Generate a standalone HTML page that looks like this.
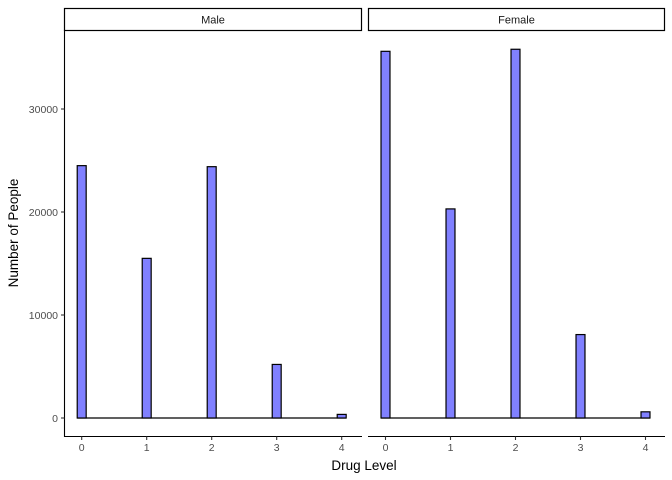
<!DOCTYPE html>
<html><head><meta charset="utf-8"><style>
body{margin:0;background:#fff}
svg{display:block;font-family:"Liberation Sans",sans-serif}
</style></head><body>
<svg id="c" width="672" height="480"></svg>
<script>
const levels=[0,1,2,3,4];
const maleCounts=[24500,15500,24400,5200,350];
const femaleCounts=[35600,20300,35800,8100,600];
const yTicks=[0,10000,20000,30000];
const xTicks=[0,1,2,3,4];
const facetNames=["Male","Female"];
const NS="http://www.w3.org/2000/svg";
const svg=document.getElementById('c');
function el(t,a,p){const e=document.createElementNS(NS,t);for(const k in a)e.setAttribute(k,a[k]);(p||svg).appendChild(e);return e;}
const y=v=>418-v*0.0103;
const panels=[{x0:64,x1:362,z:81.7,data:maleCounts},{x0:368,x1:665,z:385.5,data:femaleCounts}];
const bw=4/29;
panels.forEach((p,pi)=>{
  const g=el('g',{});
  
  
  const xs=v=>p.z+v*65;
  const s=el('rect',{x:p.x0+0.5,y:8.5,width:p.x1-p.x0-1,height:22,fill:'#fff',stroke:'#000','stroke-width':1.2},g);
  
  
  const st=el('text',{x:(p.x0+p.x1)/2,y:23.5,'text-anchor':'middle','font-size':11,fill:'#1a1a1a'},g);
  st.textContent=facetNames[pi];
  // zero baseline of empty bins
  const bl=el('line',{x1:xs(-bw/2),x2:xs(4+bw/2),y1:418,y2:418,stroke:'#000','stroke-width':1.2},g);
  
  
  levels.forEach((lv,i)=>{
    const v=p.data[i];
    const r=el('rect',{x:xs(lv-bw/2),y:y(v),width:bw*65,height:418-y(v),fill:'#8080ff',stroke:'#000','stroke-width':1.2},g);
    
    
  });
  el('line',{x1:p.x0,x2:p.x1,y1:436.5,y2:436.5,stroke:'#000','stroke-width':1.1},g);
  xTicks.forEach(t=>{
    el('line',{x1:xs(t),x2:xs(t),y1:436.5,y2:440,stroke:'#333','stroke-width':1.1},g);
    const tx=el('text',{x:xs(t),y:451,'text-anchor':'middle','font-size':10.5,fill:'#4d4d4d'},g);
    tx.textContent=t;
  });
});
// y axis
el('line',{x1:64.5,x2:64.5,y1:30,y2:437,stroke:'#000','stroke-width':1.1});
yTicks.forEach(t=>{
  el('line',{x1:61,x2:64.5,y1:y(t),y2:y(t),stroke:'#333','stroke-width':1.1});
  const tx=el('text',{x:58,y:y(t)+3.8,'text-anchor':'end','font-size':10.5,fill:'#4d4d4d'});
  tx.textContent=t;
});
const xt=el('text',{x:364,y:470,'text-anchor':'middle','font-size':13.5,fill:'#000'});
xt.textContent='Drug Level';


const yt=el('text',{x:0,y:0,'text-anchor':'middle','font-size':13.5,fill:'#000',transform:'translate(18,233) rotate(-90)'});
yt.textContent='Number of People';


</script>
</body></html>
